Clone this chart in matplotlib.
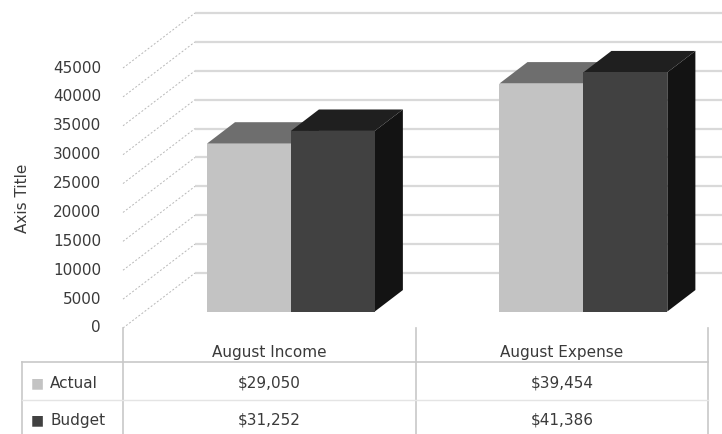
#!/usr/bin/env python3
"""
plot.py

Excel-style 3D clustered column chart with a data table underneath:
August income / expense, actual vs budget.
"""

import matplotlib
matplotlib.use("Agg")
import matplotlib.pyplot as plt


# ------------------------
# Data
# ------------------------

categories = ["August Income", "August Expense"]
series_names = ["Actual", "Budget"]
actual = [29050, 39454]
budget = [31252, 41386]
y_ticks = [0, 5000, 10000, 15000, 20000, 25000, 30000, 35000, 40000, 45000]


# ------------------------
# Style / geometry
# ------------------------

FRONT = {"Actual": "#c3c3c3", "Budget": "#414141"}
TOP = {"Actual": "#6e6e6e", "Budget": "#1f1f1f"}
SIDE = {"Actual": "#555555", "Budget": "#131313"}
TEXT = "#3a3a3a"
GRID = "#d9d9d9"
TABLE_LINE = "#c8c8c8"
FS = 11

PX_PER_CAT = 292.5           # one category column in pixels
PX_PER_VAL = 260 / 45000     # value scale in pixels
DEPTH_X = 72 / PX_PER_CAT    # oblique depth offset (floor front -> back wall)
DEPTH_Y = 55 / PX_PER_VAL
BAR_W = 0.287
BAR_D0, BAR_D1 = 0.30, 0.69  # bar front / back as fraction of floor depth


def v_of_px(dy):
    """pixel distance below the front floor edge -> value units"""
    return -dy / PX_PER_VAL


def shift(x, y, d):
    return x + d * DEPTH_X, y + d * DEPTH_Y


def draw_bar(ax, x0, value, name):
    d0, d1 = BAR_D0, BAR_D1
    x1 = x0 + BAR_W
    front = [shift(x0, 0, d0), shift(x1, 0, d0), shift(x1, value, d0), shift(x0, value, d0)]
    top = [shift(x0, value, d0), shift(x1, value, d0), shift(x1, value, d1), shift(x0, value, d1)]
    side = [shift(x1, 0, d0), shift(x1, value, d0), shift(x1, value, d1), shift(x1, 0, d1)]
    for pts, col in ((side, SIDE[name]), (top, TOP[name]), (front, FRONT[name])):
        ax.fill([p[0] for p in pts], [p[1] for p in pts], color=col, lw=0, zorder=3)


# ------------------------
# Figure
# ------------------------

plt.rcParams["font.family"] = ["DejaVu Sans"]

fig = plt.figure(figsize=(7.22, 4.34), dpi=100)
ax = fig.add_axes([0, 0, 1, 1])
ax.set_xlim(-123 / PX_PER_CAT, (722 - 123) / PX_PER_CAT)
ax.set_ylim(v_of_px(434 - 328), 328 / PX_PER_VAL)
ax.axis("off")

n_cat = len(categories)

# back wall gridlines + dashed side-wall lines
for v in y_ticks:
    bx, by = shift(0, v, 1)
    ax.plot([bx, n_cat + 1], [by, by], color=GRID, lw=1.6, zorder=1, solid_capstyle="butt")
    ax.plot([0, bx], [v, by], color="#b8b8b8", lw=0.7, ls=(0, (2, 2)), zorder=1)
    ax.text(-22 / PX_PER_CAT, v, f"{v}", ha="right", va="center",
            fontsize=FS, color=TEXT)

ax.text(-101 / PX_PER_CAT, y_ticks[-1] / 2, "Axis Title", rotation=90,
        ha="center", va="center", fontsize=FS, color=TEXT)

# bars, left to right
for i in range(n_cat):
    c = i + 0.5
    draw_bar(ax, c - BAR_W, actual[i], "Actual")
    draw_bar(ax, c, budget[i], "Budget")

# ------------------------
# Data table
# ------------------------

y_bottom = v_of_px(434 - 328)
y_head_line = v_of_px(362 - 328)
y_row_line = v_of_px(400 - 328)
x_left = -101 / PX_PER_CAT

for i in range(n_cat + 1):
    ax.plot([i, i], [0, y_bottom], color=TABLE_LINE, lw=1.2, zorder=2)
ax.plot([x_left, x_left], [y_head_line, y_bottom], color=TABLE_LINE, lw=1.2, zorder=2)
ax.plot([x_left, n_cat], [y_head_line, y_head_line], color=TABLE_LINE, lw=1.2, zorder=2)
ax.plot([x_left, n_cat], [y_row_line, y_row_line], color="#e4e4e4", lw=1.0, zorder=2)

for i, cat in enumerate(categories):
    ax.text(i + 0.5, v_of_px(352 - 328), cat, ha="center", va="center",
            fontsize=FS, color=TEXT)

rows = [("Actual", actual, v_of_px(383 - 328)), ("Budget", budget, v_of_px(420 - 328))]
for name, vals, yy in rows:
    ax.text(-92 / PX_PER_CAT, yy, "\u25a0", ha="left", va="center",
            fontsize=10, color=FRONT[name])
    ax.text(-73 / PX_PER_CAT, yy, name, ha="left", va="center",
            fontsize=FS, color=TEXT)
    for i, v in enumerate(vals):
        ax.text(i + 0.5, yy, f"${v:,}", ha="center", va="center",
                fontsize=FS, color=TEXT)

fig.savefig("out.png", dpi=100)
plt.close(fig)
